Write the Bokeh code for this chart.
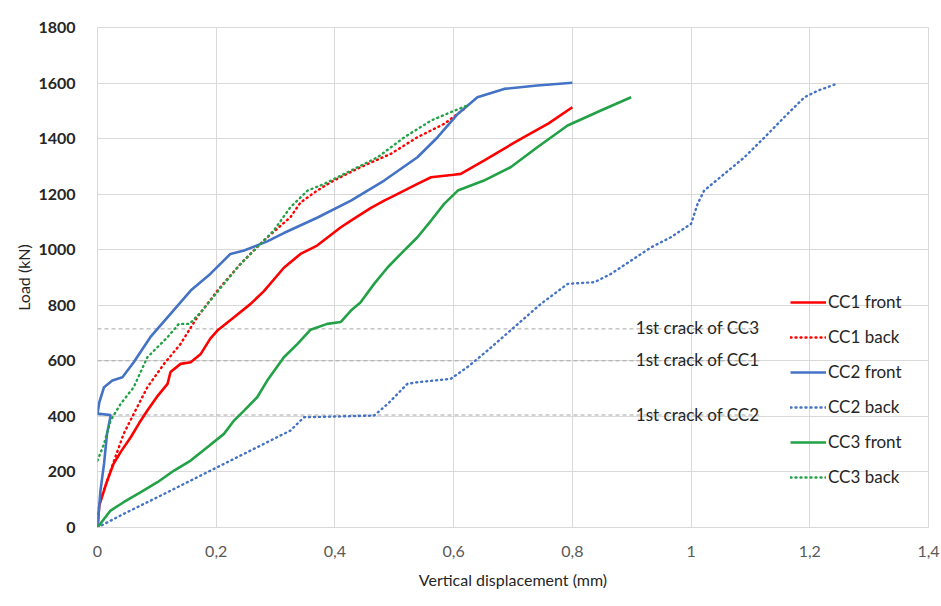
from bokeh.plotting import figure
from bokeh.models import Range1d, FixedTicker, Legend, LegendItem
from bokeh.core.properties import value
from bokeh.embed import file_html
from bokeh.resources import INLINE

# ---------------- data ----------------
cc1_front_x = [0, 0.003, 0.015, 0.027, 0.04, 0.056, 0.07, 0.084, 0.1, 0.118, 0.123, 0.14, 0.157, 0.174, 0.19, 0.202,
               0.23, 0.258, 0.28, 0.314, 0.342, 0.37, 0.41, 0.427, 0.46, 0.483, 0.5, 0.539, 0.562, 0.6, 0.612, 0.651,
               0.708, 0.76, 0.8]
cc1_front_y = [0, 80, 160, 229, 275, 325, 375, 421, 470, 517, 560, 589, 595, 625, 680, 709,
               757, 805, 850, 935, 985, 1015, 1081, 1105, 1150, 1177, 1195, 1237, 1261, 1270, 1273, 1321,
               1393, 1455, 1513]

cc1_back_x = [0, 0.005, 0.022, 0.044, 0.061, 0.084, 0.112, 0.14, 0.168, 0.202, 0.241, 0.28, 0.325, 0.342, 0.37,
              0.398, 0.443, 0.494, 0.539, 0.584, 0.62]
cc1_back_y = [50, 97, 205, 337, 409, 505, 589, 661, 757, 853, 949, 1033, 1117, 1170, 1213,
              1249, 1297, 1345, 1405, 1453, 1510]

cc2_front_x = [0, 0.005, 0.011, 0.016, 0.021, 0.022, 0.0, 0.003, 0.011, 0.025, 0.042, 0.061, 0.089, 0.123, 0.157,
               0.19, 0.224, 0.247, 0.286, 0.314, 0.37, 0.427, 0.483, 0.539, 0.573, 0.607, 0.64, 0.685, 0.741, 0.8]
cc2_front_y = [0, 133, 229, 337, 391, 405, 410, 450, 505, 529, 541, 595, 685, 769, 853,
               913, 985, 997, 1030, 1060, 1115, 1177, 1249, 1333, 1405, 1489, 1549, 1579, 1591, 1601]

cc2_back_x = [0, 0.044, 0.101, 0.157, 0.213, 0.269, 0.325, 0.348, 0.41, 0.466, 0.489, 0.522, 0.539, 0.595, 0.623,
              0.657, 0.702, 0.747, 0.792, 0.837, 0.865, 0.899, 0.933, 0.966, 1.0, 1.011, 1.022, 1.056, 1.09, 1.124,
              1.157, 1.191, 1.214, 1.245]
cc2_back_y = [0, 49, 109, 169, 229, 289, 349, 397, 400, 403, 445, 517, 523, 535, 577,
              637, 721, 805, 877, 883, 913, 961, 1009, 1045, 1093, 1165, 1213, 1273, 1333, 1405,
              1477, 1549, 1573, 1597]

cc3_front_x = [0, 0.022, 0.044, 0.073, 0.101, 0.129, 0.157, 0.185, 0.213, 0.23, 0.247, 0.269, 0.286, 0.314, 0.337,
               0.359, 0.387, 0.41, 0.427, 0.443, 0.466, 0.489, 0.511, 0.539, 0.562, 0.584, 0.607, 0.651, 0.696,
               0.741, 0.792, 0.848, 0.899]
cc3_front_y = [0, 61, 91, 127, 163, 205, 241, 289, 337, 385, 421, 469, 529, 613, 661,
               712, 733, 740, 781, 810, 877, 937, 985, 1045, 1105, 1165, 1213, 1249, 1297,
               1369, 1447, 1501, 1549]

cc3_back_x = [0, 0.011, 0.022, 0.039, 0.061, 0.084, 0.118, 0.137, 0.155, 0.174, 0.19, 0.213, 0.241, 0.269, 0.297,
              0.325, 0.354, 0.382, 0.427, 0.472, 0.517, 0.562, 0.595, 0.623]
cc3_back_y = [241, 301, 385, 445, 505, 613, 685, 733, 733, 775, 817, 877, 949, 1009, 1069,
              1153, 1213, 1237, 1285, 1333, 1405, 1465, 1495, 1519]

crack_loads = [715, 600, 405]
crack_labels = ["1st crack of CC3", "1st crack of CC1", "1st crack of CC2"]

x_ticks = [0, 0.2, 0.4, 0.6, 0.8, 1.0, 1.2, 1.4]
x_tick_labels = ["0", "0,2", "0,4", "0,6", "0,8", "1", "1,2", "1,4"]
y_ticks = [0, 200, 400, 600, 800, 1000, 1200, 1400, 1600, 1800]

# ---------------- figure ----------------
FONT = "Lato"
p = figure(width=941, height=606, output_backend="svg", toolbar_location=None,
           x_range=Range1d(0, 1.4), y_range=Range1d(0, 1800),
           min_border_left=97, min_border_right=13, min_border_top=27, min_border_bottom=79)
p.border_fill_color = "white"
p.outline_line_color = "#d9d9d9"
p.background_fill_color = "white"

p.xaxis.ticker = FixedTicker(ticks=x_ticks)
p.xaxis.major_label_overrides = {t: l for t, l in zip(x_ticks, x_tick_labels)}
p.yaxis.ticker = FixedTicker(ticks=y_ticks)
p.xgrid.ticker = FixedTicker(ticks=x_ticks)
p.ygrid.ticker = FixedTicker(ticks=y_ticks)
for g in (p.xgrid, p.ygrid):
    g.grid_line_color = "#d9d9d9"
    g.grid_line_width = 1

for ax in (p.xaxis, p.yaxis):
    ax.major_tick_line_color = None
    ax.minor_tick_line_color = None
    ax.axis_label_text_font = FONT
    ax.axis_label_text_font_size = "16px"
    ax.axis_label_text_font_style = "normal"
    ax.axis_label_text_color = "#262626"
    ax.major_label_text_font = FONT
    ax.major_label_text_font_size = "16px"
p.xaxis.axis_line_color = "#d9d9d9"
p.yaxis.axis_line_color = None
p.xaxis.major_label_text_color = "#595959"
p.yaxis.major_label_text_color = "#262626"
p.yaxis.major_label_text_font_style = "bold"
p.xaxis.axis_label = "Vertical displacement (mm)"
p.yaxis.axis_label = "Load (kN)"
p.xaxis.major_label_standoff = 12
p.xaxis.axis_label_standoff = 10
p.yaxis.major_label_standoff = 16
p.yaxis.axis_label_standoff = 2

# crack lines
crack_end = 1.115
for yv in crack_loads:
    p.line([0, crack_end], [yv, yv], line_color="#a6a6a6", line_width=1, line_dash="4 3")
p.text(x=[crack_end] * len(crack_loads), y=crack_loads, text=crack_labels,
       text_align="right", text_baseline="alphabetic", y_offset=-1,
       text_font=value(FONT), text_font_size="17px", text_color="#262626")

RED = "#ff0000"
BLUE = "#4472c4"
GREEN = "#22a146"
DOT = "1 4"

r1 = p.line(cc1_front_x, cc1_front_y, line_color=RED, line_width=2.6)
r2 = p.line(cc1_back_x, cc1_back_y, line_color=RED, line_width=2.4, line_dash=DOT, line_cap="round")
r3 = p.line(cc2_front_x, cc2_front_y, line_color=BLUE, line_width=2.6)
r4 = p.line(cc2_back_x, cc2_back_y, line_color=BLUE, line_width=2.4, line_dash=DOT, line_cap="round")
r5 = p.line(cc3_front_x, cc3_front_y, line_color=GREEN, line_width=2.6)
r6 = p.line(cc3_back_x, cc3_back_y, line_color=GREEN, line_width=2.4, line_dash=DOT, line_cap="round")

legend = Legend(items=[
    LegendItem(label="CC1 front", renderers=[r1]),
    LegendItem(label="CC1 back", renderers=[r2]),
    LegendItem(label="CC2 front", renderers=[r3]),
    LegendItem(label="CC2 back", renderers=[r4]),
    LegendItem(label="CC3 front", renderers=[r5]),
    LegendItem(label="CC3 back", renderers=[r6]),
], location=(693, 40))
legend.background_fill_alpha = 0
legend.border_line_color = None
legend.padding = 0
legend.margin = 0
legend.spacing = 14
legend.glyph_height = 20
legend.label_height = 20
legend.glyph_width = 36
legend.label_standoff = 2
legend.label_text_font = FONT
legend.label_text_font_size = "17px"
legend.label_text_color = "#262626"
p.add_layout(legend)

open("out.html", "w").write(file_html(p, INLINE))
